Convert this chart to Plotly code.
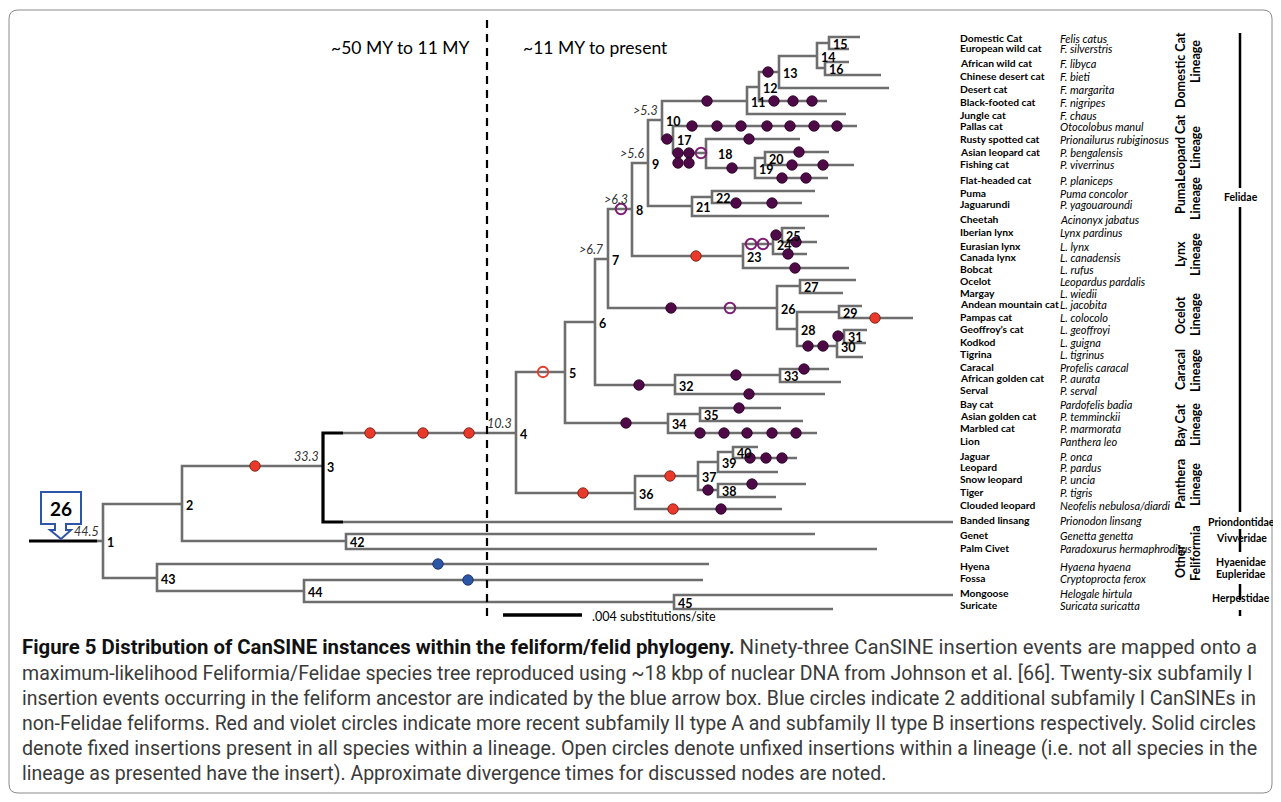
import plotly.graph_objects as go

# ------------------------------------------------------------------ data
LEAF_COMMON = ["Domestic Cat", "European wild cat", "African wild cat", "Chinese desert cat", "Desert cat",
               "Black-footed cat", "Jungle cat", "Pallas cat", "Rusty spotted cat", "Asian leopard cat",
               "Fishing cat", "Flat-headed cat", "Puma", "Jaguarundi", "Cheetah", "Iberian lynx",
               "Eurasian lynx", "Canada lynx", "Bobcat", "Ocelot", "Margay", "Andean mountain cat",
               "Pampas cat", "Geoffroy’s cat", "Kodkod", "Tigrina", "Caracal", "African golden cat",
               "Serval", "Bay cat", "Asian golden cat", "Marbled cat", "Lion", "Jaguar", "Leopard",
               "Snow leopard", "Tiger", "Clouded leopard", "Banded linsang", "Genet", "Palm Civet",
               "Hyena", "Fossa", "Mongoose", "Suricate"]
LEAF_SCI = ["Felis catus", "F. silverstris", "F. libyca", "F. bieti", "F. margarita", "F. nigripes",
            "F. chaus", "Otocolobus manul", "Prionailurus rubiginosus", "P. bengalensis", "P. viverrinus",
            "P. planiceps", "Puma concolor", "P. yagouaroundi", "Acinonyx jabatus", "Lynx pardinus",
            "L. lynx", "L. canadensis", "L. rufus", "Leopardus pardalis", "L. wiedii", "L. jacobita",
            "L. colocolo", "L. geoffroyi", "L. guigna", "L. tigrinus", "Profelis caracal", "P. aurata",
            "P. serval", "Pardofelis badia", "P. temminckii", "P. marmorata", "Panthera leo", "P. onca",
            "P. pardus", "P. uncia", "P. tigris", "Neofelis nebulosa/diardi", "Prionodon linsang",
            "Genetta genetta", "Paradoxurus hermaphroditus", "Hyaena hyaena", "Cryptoprocta ferox",
            "Helogale hirtula", "Suricata suricatta"]
LEAF_LABEL_Y = [38, 48, 63, 76, 89, 102, 115, 126, 139, 152, 164, 180, 193, 204, 219, 232, 246, 257, 269,
                281, 293, 304, 317, 329, 342, 354, 367, 378, 390, 404, 416, 428, 441, 456, 467, 479, 492,
                505, 520, 535, 548, 566, 578, 593, 605]
LEAF_TIP_X = [860, 849, 849, 881, 889, 827, 846, 857, 800, 829, 854, 828, 815, 802, 829, 805, 817, 807, 849,
              856, 843, 862, 913, 867, 866, 863, 829, 841, 825, 781, 803, 817, 758, 797, 778, 806, 776,
              782, 953, 815, 877, 709, 703, 953, 833]
LEAF_TIP_Y = [37, 49, 62, 75, 88, 101, 114, 126, 139, 152, 165, 178, 191, 203, 216, 228, 242, 254, 268,
              280, 293, 306, 318, 330, 343, 357, 369, 382, 394, 408, 421, 433, 447, 458, 472, 484, 497,
              509, 522, 534, 549, 564, 580, 595, 609]
LEAF_PARENT = ["15", "15", "16", "16", "13", "12", "11", "17", "18", "20", "20", "19", "22", "22", "21",
               "25", "25", "24", "23", "27", "27", "29", "29", "31", "31", "30", "33", "33", "32", "35",
               "35", "34", "40", "40", "39", "38", "38", "36", "3", "42", "42", "43", "44", "45", "45"]

NODE_ID = ["1", "2", "43", "3", "42", "4", "5", "36", "6", "34", "7", "32", "8", "26", "9", "23", "10",
           "21", "11", "17", "12", "13", "14", "15", "16", "18", "19", "20", "22", "24", "25", "27", "28",
           "29", "30", "31", "33", "35", "37", "38", "39", "40", "44", "45"]
NODE_PARENT = ["root", "1", "1", "2", "2", "3", "4", "4", "5", "5", "6", "6", "7", "7", "8", "8", "9",
               "9", "10", "10", "11", "12", "13", "14", "14", "17", "18", "19", "21", "23", "24", "26",
               "26", "28", "28", "30", "32", "34", "36", "37", "37", "39", "43", "44"]
NODE_X = [103, 182, 157, 323, 346, 516, 565, 635, 595, 668, 608, 675, 632, 777, 648, 743, 662, 692, 747,
          673, 759, 779, 817, 829, 825, 706, 755, 765, 712, 773, 782, 800, 797, 839, 837, 844, 780, 700,
          698, 718, 718, 733, 304, 674]
NODE_Y = [541, 504, 578, 466, 541, 433, 372, 493, 322, 423, 259, 385, 209, 308, 163, 256, 120, 206, 101,
          139, 87, 72, 56, 43, 68, 153, 168, 158, 197, 244, 235, 286, 329, 312, 346, 336, 375, 414, 476,
          490, 462, 452, 591, 602]
ROOT_X = 29

DIV_NODE = ["1", "3", "4", "7", "8", "9", "10"]
DIV_TEXT = ["44.5", "33.3", "10.3", ">6.7", ">6.3", ">5.6", ">5.3"]

# insertion events: branch (ends at this node/leaf), position along x, type, stacked row
INS_BRANCH = ["3", "4", "4", "4", "5", "36", "34", "32", "8", "26", "26", "23", "11", "17",
              "18", "18", "18", "18", "18", "Rusty spotted cat", "19", "Flat-headed cat", "Flat-headed cat",
              "Asian leopard cat", "Fishing cat", "Fishing cat",
              "Pallas cat", "Pallas cat", "Pallas cat", "Pallas cat", "Pallas cat", "Pallas cat", "Pallas cat",
              "13", "Black-footed cat", "Black-footed cat", "Black-footed cat", "Jaguarundi", "Jaguarundi",
              "24", "24", "25", "Eurasian lynx", "Canada lynx", "Bobcat", "30", "30", "31", "Pampas cat",
              "33", "Serval", "Caracal", "Bay cat", "Marbled cat", "Marbled cat", "Marbled cat",
              "Marbled cat", "Marbled cat", "Jaguar", "Jaguar", "Jaguar", "37", "38", "Snow leopard",
              "Clouded leopard", "Clouded leopard", "Hyena", "Fossa"]
INS_X = [255, 370, 423, 469, 543, 583, 626, 639, 621, 671, 730, 696, 707, 667,
         678, 689, 701, 678, 689, 749, 732, 782, 806, 799, 792, 823,
         692, 717, 741, 767, 790, 814, 837,
         768, 774, 793, 812, 736, 772,
         751, 763, 776, 796, 788, 795, 808, 823, 838, 875,
         736, 749, 804, 739, 700, 724, 747, 772, 796, 750, 766, 782, 670, 708, 752,
         673, 721, 438, 468]
INS_TYPE = ["A", "A", "A", "A", "Ao", "A", "B", "B", "Bo", "B", "Bo", "A", "B", "B",
            "B", "B", "Bo", "B", "B", "B", "B", "B", "B", "B", "B", "B",
            "B", "B", "B", "B", "B", "B", "B",
            "B", "B", "B", "B", "B", "B",
            "Bo", "Bo", "B", "B", "B", "B", "B", "B", "B", "A",
            "B", "B", "B", "B", "B", "B", "B", "B", "B", "B", "B", "B", "A", "B", "B",
            "A", "B", "I", "I"]
INS_ROW = [0] * len(INS_X)
INS_ROW[17] = 1
INS_ROW[18] = 1

LINEAGE_L1 = ["Domestic Cat", "Leopard Cat", "Puma", "Lynx", "Ocelot", "Caracal", "Bay Cat", "Panthera", "Other"]
LINEAGE_L2 = ["Lineage", "Lineage", "Lineage", "Lineage", "Lineage", "Lineage", "Lineage", "Lineage", "Feliformia"]
LINEAGE_Y1 = [70, 148, 198, 254, 315, 370, 426, 484, 562]
LINEAGE_Y2 = [62, 148, 199, 255, 315, 371, 425, 485, 553]

FAMILY_NAMES = ["Felidae", "Priondontidae", "Vivveridae", "Hyaenidae", "Eupleridae", "Herpestidae"]
FAMILY_Y = [197, 522, 538, 562, 574, 598]

TIME_TEXT = ["~50 MY to 11 MY", "~11 MY to present"]
TIME_SPLIT_X = 487
SCALE_LABEL = ".004 substitutions/site"
SCALE_LEN = 79
ANCESTRAL_COUNT = 26

CAPTION_TITLE = "Figure 5 Distribution of CanSINE instances within the feliform/felid phylogeny."
CAPTION_LINES = [
    " Ninety-three CanSINE insertion events are mapped onto a",
    "maximum-likelihood Feliformia/Felidae species tree reproduced using ~18 kbp of nuclear DNA from Johnson et al. [66]. Twenty-six subfamily I",
    "insertion events occurring in the feliform ancestor are indicated by the blue arrow box. Blue circles indicate 2 additional subfamily I CanSINEs in",
    "non-Felidae feliforms. Red and violet circles indicate more recent subfamily II type A and subfamily II type B insertions respectively. Solid circles",
    "denote fixed insertions present in all species within a lineage. Open circles denote unfixed insertions within a lineage (i.e. not all species in the",
    "lineage as presented have the insert). Approximate divergence times for discussed nodes are noted.",
]

# ------------------------------------------------------------------ build
pos = {"root": (ROOT_X, NODE_Y[0])}
for n, x, y in zip(NODE_ID, NODE_X, NODE_Y):
    pos[n] = (x, y)
for n, x, y in zip(LEAF_COMMON, LEAF_TIP_X, LEAF_TIP_Y):
    pos[n] = (x, y)
parent = dict(zip(NODE_ID, NODE_PARENT))
parent.update(dict(zip(LEAF_COMMON, LEAF_PARENT)))

GREY = "#6e6e6e"
FONT = "Lato, 'Open Sans', sans-serif"
HL = "3"   # node drawn with the black bracket
STUB = 20

gx, gy, bx, by = [], [], [], []
for child, p in parent.items():
    if p == "root":
        continue
    px, py = pos[p]
    cx, cy = pos[child]
    if p == HL:
        bx += [px, px, px + STUB, None]
        by += [py, cy, cy, None]
        gx += [px + STUB, cx, None]
        gy += [cy, cy, None]
    else:
        gx += [px, px, cx, None]
        gy += [py, cy, cy, None]
r1x, r1y = pos["1"]
bx += [ROOT_X, r1x - 6, None]
by += [r1y, r1y, None]
gx += [r1x - 6, r1x, None]
gy += [r1y, r1y, None]

fig = go.Figure()
fig.add_trace(go.Scatter(x=gx, y=gy, mode="lines", line=dict(color=GREY, width=2.6),
                         hoverinfo="skip", showlegend=False))
fig.add_trace(go.Scatter(x=bx, y=by, mode="lines", line=dict(color="black", width=3.2),
                         hoverinfo="skip", showlegend=False))
fig.add_trace(go.Scatter(x=[TIME_SPLIT_X, TIME_SPLIT_X], y=[20, 618], mode="lines",
                         line=dict(color="black", width=2.2, dash="8px,6px"),
                         hoverinfo="skip", showlegend=False))

STYLE = {
    "A": dict(color="#e8392b", line=dict(color="#6a1a12", width=0.8), symbol="circle"),
    "Ao": dict(color="#e8392b", line=dict(color="#e8392b", width=1.8), symbol="circle-open"),
    "B": dict(color="#4e0a47", line=dict(color="#260322", width=0.8), symbol="circle"),
    "Bo": dict(color="#7d1f74", line=dict(color="#7d1f74", width=2), symbol="circle-open"),
    "I": dict(color="#2e56a6", line=dict(color="#14265a", width=0.8), symbol="circle"),
}
for t, st in STYLE.items():
    xs = [x for x, tt in zip(INS_X, INS_TYPE) if tt == t]
    ys = [pos[b][1] + 10 * r for b, tt, r in zip(INS_BRANCH, INS_TYPE, INS_ROW) if tt == t]
    fig.add_trace(go.Scatter(x=xs, y=ys, mode="markers",
                             marker=dict(size=10.5, color=st["color"], symbol=st["symbol"], line=st["line"]),
                             hoverinfo="skip", showlegend=False))

ann = []
LABEL_NUDGE = {"18": 8}
for n, (x, y) in zip(NODE_ID, zip(NODE_X, NODE_Y)):
    ann.append(dict(x=x + 2 + LABEL_NUDGE.get(n, 0), y=y + 1, text=f"<b>{n}</b>", xanchor="left",
                    yanchor="middle", font=dict(size=12.5, color="black", family=FONT)))
for n, t in zip(DIV_NODE, DIV_TEXT):
    x, y = pos[n]
    ann.append(dict(x=x - 2, y=y - 10, text=f"<i>{t}</i>", xanchor="right", yanchor="middle",
                    font=dict(size=12.5, color="#333333", family=FONT)))
for c, s, y in zip(LEAF_COMMON, LEAF_SCI, LEAF_LABEL_Y):
    ann.append(dict(x=958, y=y, text=f"<b>{c}</b>", xanchor="left", yanchor="middle",
                    font=dict(size=10.3, color="black", family=FONT)))
    ann.append(dict(x=1058, y=y, text=f"<i>{s}</i>", xanchor="left", yanchor="middle",
                    font=dict(size=11.0, color="black", family=FONT)))
for l1, l2, y1, y2 in zip(LINEAGE_L1, LINEAGE_L2, LINEAGE_Y1, LINEAGE_Y2):
    ann.append(dict(x=1180, y=y1, text=f"<b>{l1}</b>", textangle=-90, xanchor="center", yanchor="middle",
                    font=dict(size=12.5, color="black", family=FONT)))
    ann.append(dict(x=1195, y=y2, text=f"<b>{l2}</b>", textangle=-90, xanchor="center", yanchor="middle",
                    font=dict(size=12.5, color="black", family=FONT)))
for f, y in zip(FAMILY_NAMES, FAMILY_Y):
    ann.append(dict(x=1241, y=y, text=f"<b>{f}</b>", xanchor="center", yanchor="middle",
                    font=dict(size=10.5, color="black", family=FONT)))
ann.append(dict(x=TIME_SPLIT_X - 15, y=47, text=TIME_TEXT[0], xanchor="right", yanchor="middle",
                font=dict(size=17.5, color="black", family=FONT)))
ann.append(dict(x=TIME_SPLIT_X + 34, y=47, text=TIME_TEXT[1], xanchor="left", yanchor="middle",
                font=dict(size=17.5, color="black", family=FONT)))
SB_X0, SB_Y = 503, 615
ann.append(dict(x=SB_X0 + SCALE_LEN + 8, y=SB_Y + 1, text=SCALE_LABEL, xanchor="left", yanchor="middle",
                font=dict(size=12.5, color="black", family=FONT)))
cx0 = 61
ann.append(dict(x=cx0, y=508, text=f"<b>{ANCESTRAL_COUNT}</b>", xanchor="center", yanchor="middle",
                font=dict(size=19, color="black", family=FONT)))
CAP_FONT = "Roboto, sans-serif"
cap_y = [647, 673, 698, 723, 748, 773]
cap_size = [20.35, 19.55, 19.45, 19.45, 19.7, 19.5]
for i, (line, y, fs) in enumerate(zip(CAPTION_LINES, cap_y, cap_size)):
    txt = (f"<b><span style='color:#111111'>{CAPTION_TITLE}</span></b>" if i == 0 else "") + line
    ann.append(dict(x=20, y=y, text=txt, xanchor="left", yanchor="middle",
                    font=dict(size=fs, color="#3a3a3a", family=CAP_FONT)))
for a in ann:
    a.update(xref="x", yref="y", showarrow=False)

shapes = []
shapes.append(dict(type="line", x0=SB_X0, x1=SB_X0 + SCALE_LEN, y0=SB_Y, y1=SB_Y,
                   line=dict(color="black", width=3.5)))
path = (f"M 41 492 L 81 492 L 81 524 L 66 524 L 66 530 L 71 530 L {cx0} 539 L 50 530 L 55 530 "
        f"L 55 524 L 41 524 Z")
shapes.append(dict(type="path", path=path, line=dict(color="#2f55a8", width=2), fillcolor="white"))
for y0, y1 in [(33, 188), (207, 512), (529, 552), (584, 600), (610, 616)]:
    shapes.append(dict(type="line", x0=1240, x1=1240, y0=y0, y1=y1, line=dict(color="black", width=2.5),
                       layer="below"))
r = 9
L, T, R, B = 9, 10, 1272, 793
frame = (f"M {L+r} {T} L {R-r} {T} Q {R} {T} {R} {T+r} L {R} {B-r} Q {R} {B} {R-r} {B} "
         f"L {L+r} {B} Q {L} {B} {L} {B-r} L {L} {T+r} Q {L} {T} {L+r} {T} Z")
shapes.append(dict(type="path", path=frame, line=dict(color="#8a8a8a", width=1)))
for s in shapes:
    s.update(xref="x", yref="y")

# the page body has an 8px margin; offset the axes so data units equal page pixels
PAGE_OFF = 8
W, H = 1265, 786
fig.update_layout(
    width=W, height=H, margin=dict(l=0, r=0, t=0, b=0),
    paper_bgcolor="white", plot_bgcolor="white",
    xaxis=dict(range=[PAGE_OFF, PAGE_OFF + W], visible=False, fixedrange=True),
    yaxis=dict(range=[PAGE_OFF + H, PAGE_OFF], visible=False, fixedrange=True),
    annotations=ann, shapes=shapes, showlegend=False,
)
fig.write_html("out.html")
